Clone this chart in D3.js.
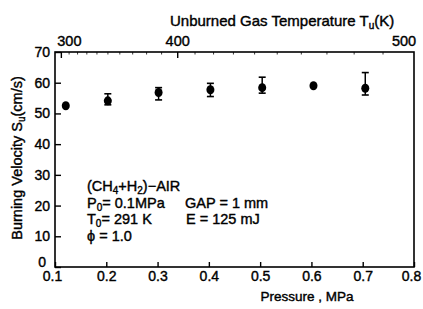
<!DOCTYPE html>
<html><head><meta charset="utf-8">
<script src="https://cdn.jsdelivr.net/npm/d3@7"></script>
<style>
body{margin:0;background:#fff;}
svg text{font-family:"Liberation Sans",Arial,sans-serif;fill:#000;stroke:#000;stroke-width:0.4;}
</style></head>
<body>
<svg id="chart" width="423" height="309"></svg>
<script>
// Data
const pressure = [0.121, 0.203, 0.302, 0.403, 0.504, 0.604, 0.705];
const velocity = [52.5, 54.1, 56.8, 57.7, 58.4, 59.0, 58.2];
const errHigh  = [52.5, 56.4, 58.4, 59.8, 61.8, 59.0, 63.3];
const errLow   = [52.5, 52.8, 54.4, 55.5, 56.6, 59.0, 56.0];
const xTicks = [0.1, 0.2, 0.3, 0.4, 0.5, 0.6, 0.7, 0.8];
const yTicks = [0, 10, 20, 30, 40, 50, 60, 70];
const tempMajor = [300, 400, 500];
const tempMinor = [310,320,330,340,350,360,370,380,390,410,420,430,440,450,460,470,480,490];
const T0 = 291, P0 = 0.1, compExp = 3.84; // isentropic compression mapping T -> P

const svg = d3.select("#chart");
const L = 55, R = 414, T = 52, B = 267;
const x = d3.scaleLinear().domain([0.1, 0.8]).range([L, R]);
const y = d3.scaleLinear().domain([0, 70]).range([B, T]);
const tToP = t => P0 * Math.pow(t / T0, compExp);

// frame
svg.append("rect").attr("x", L).attr("y", T).attr("width", R - L).attr("height", B - T)
  .attr("fill", "none").attr("stroke", "#000").attr("stroke-width", 1.6);

// bottom axis ticks (inside)
const gx = svg.append("g").attr("transform", `translate(0,${B})`)
  .call(d3.axisBottom(x).tickValues(xTicks).tickFormat(d3.format(".1f")).tickSizeInner(-5).tickSizeOuter(0).tickPadding(4));
gx.select(".domain").remove();
gx.selectAll("line").attr("stroke", "#000").attr("stroke-width", 1.4);
gx.selectAll("text").attr("font-size", 14).attr("font-family", null);
gx.selectAll(".tick").filter(d => d === 0.1).select("text").attr("dx", -3);
gx.selectAll(".tick").filter(d => d === 0.8).select("text").attr("dx", -3);

// left axis
const gy = svg.append("g").attr("transform", `translate(${L},0)`)
  .call(d3.axisLeft(y).tickValues(yTicks).tickSizeInner(-6).tickSizeOuter(0).tickPadding(5));
gy.select(".domain").remove();
gy.selectAll("line").attr("stroke", "#000").attr("stroke-width", 1.4);
gy.selectAll("text").attr("font-size", 14).attr("font-family", null);
gy.selectAll(".tick").filter(d => d === 0).select("text").attr("transform", "translate(-4,-5)");

// top temperature axis
const gt = svg.append("g").attr("transform", `translate(0,${T})`);
gt.selectAll("line.maj").data(tempMajor.filter(t => t < 500)).join("line")
  .attr("x1", d => x(tToP(d))).attr("x2", d => x(tToP(d))).attr("y1", 0).attr("y2", 6)
  .attr("stroke", "#000").attr("stroke-width", 1.4);
gt.selectAll("line.min").data(tempMinor).join("line")
  .attr("x1", d => x(tToP(d))).attr("x2", d => x(tToP(d))).attr("y1", 0).attr("y2", 2.5)
  .attr("stroke", "#000").attr("stroke-width", 0.8);
gt.selectAll("text").data(tempMajor).join("text")
  .attr("x", d => Math.min(x(tToP(d)) + (d === 300 ? 8 : 0), R - 10)).attr("y", -6)
  .attr("text-anchor", "middle").attr("font-size", 14.5).text(d => d);

// top title
const tt = svg.append("text").attr("x", 170).attr("y", 26).attr("text-anchor", "start").attr("font-size", 15);
tt.append("tspan").text("Unburned Gas Temperature  T");
tt.append("tspan").attr("font-size", 10).attr("dy", 3).text("u");
tt.append("tspan").attr("dy", -3).text("(K)");

// x label
svg.append("text").attr("x", 307).attr("y", 301).attr("text-anchor", "middle")
  .attr("font-size", 13.5).text("Pressure , MPa");

// y label
const yl = svg.append("text").attr("transform", "translate(22,158) rotate(-90)")
  .attr("text-anchor", "middle").attr("font-size", 14.5);
yl.append("tspan").text("Burning Velocity  S");
yl.append("tspan").attr("font-size", 10).attr("dy", 3).text("u");
yl.append("tspan").attr("dy", -3).text("(cm/s)");

// error bars
const eb = svg.append("g");
pressure.forEach((p, i) => {
  if (errHigh[i] - errLow[i] > 0.1) {
    eb.append("line").attr("x1", x(p)).attr("x2", x(p)).attr("y1", y(errHigh[i])).attr("y2", y(errLow[i]))
      .attr("stroke", "#000").attr("stroke-width", 1.5);
    [errHigh[i], errLow[i]].forEach(v => eb.append("line")
      .attr("x1", x(p) - 3.5).attr("x2", x(p) + 3.5).attr("y1", y(v)).attr("y2", y(v))
      .attr("stroke", "#000").attr("stroke-width", 1.6));
  }
});
svg.append("g").selectAll("ellipse").data(pressure).join("ellipse")
  .attr("cx", d => x(d)).attr("cy", (d, i) => y(velocity[i]))
  .attr("rx", 4).attr("ry", 4.5).attr("fill", "#000");

// annotation
const ann = svg.append("g").attr("font-size", 14.5);
const l1 = ann.append("text").attr("x", 87).attr("y", 191);
l1.append("tspan").text("(CH");
l1.append("tspan").attr("font-size", 10).attr("dy", 3).text("4");
l1.append("tspan").attr("dy", -3).text("+H");
l1.append("tspan").attr("font-size", 10).attr("dy", 3).text("2");
l1.append("tspan").attr("dy", -3).text(")\u2212AIR");
const l2 = ann.append("text").attr("x", 87).attr("y", 207.5);
l2.append("tspan").text("P");
l2.append("tspan").attr("font-size", 10).attr("dy", 3).text("0");
l2.append("tspan").attr("dy", -3).text("= 0.1MPa");
ann.append("text").attr("x", 185).attr("y", 207.5).text("GAP = 1 mm");
const l3 = ann.append("text").attr("x", 87).attr("y", 224);
l3.append("tspan").text("T");
l3.append("tspan").attr("font-size", 10).attr("dy", 3).text("0");
l3.append("tspan").attr("dy", -3).text("= 291 K");
ann.append("text").attr("x", 186).attr("y", 224).text("E = 125 mJ");
ann.append("text").attr("x", 87).attr("y", 240.5).text("\u03D5 = 1.0");
</script>
</body></html>
